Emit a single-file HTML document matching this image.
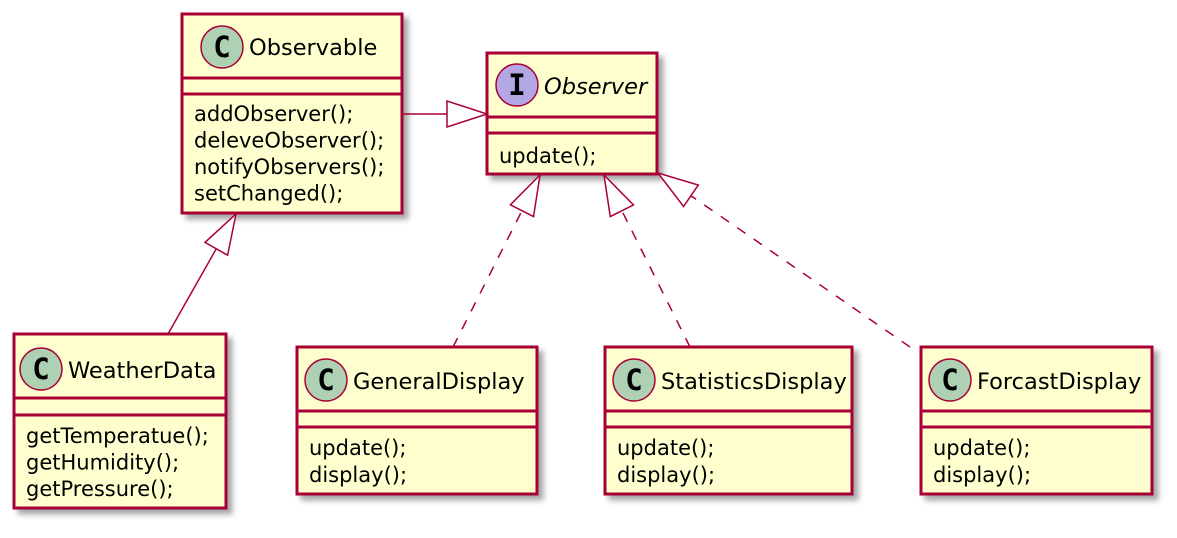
<!DOCTYPE html>
<html><head><meta charset="utf-8"><style>
html,body{margin:0;padding:0;background:#fff;}
svg text{font-family:"DejaVu Sans","Liberation Sans",sans-serif;font-size:21px;fill:#000;}
</style></head><body>
<svg id="s" width="1177" height="533" viewBox="0 0 1177 533" xmlns="http://www.w3.org/2000/svg">
<defs>
<filter id="sh" x="-10%" y="-10%" width="130%" height="130%">
<feGaussianBlur in="SourceAlpha" stdDeviation="3"/>
<feOffset dx="5" dy="5"/>
<feComponentTransfer><feFuncA type="linear" slope="0.35"/></feComponentTransfer>
<feMerge><feMergeNode/><feMergeNode in="SourceGraphic"/></feMerge>
</filter>
</defs>
<g id="boxes"></g>
<g id="edges"></g>
</svg>
<script>
var NS="http://www.w3.org/2000/svg";
function el(t,a,p,txt){var e=document.createElementNS(NS,t);for(var k in a)e.setAttribute(k,a[k]);if(txt!=null)e.textContent=txt;(p||document.getElementById('s')).appendChild(e);return e;}
var boxes=document.getElementById('boxes'),edges=document.getElementById('edges');
function box(x1,y1,x2,y2,s1,s2,cx,cy,title,tb,letter,italic,lines,lb,ls){
 el('rect',{x:x1,y:y1,width:x2-x1,height:y2-y1,fill:'#FEFECE',stroke:'#A80036','stroke-width':3,filter:'url(#sh)'},boxes);
 el('line',{x1:x1,y1:s1,x2:x2,y2:s1,stroke:'#A80036','stroke-width':3},boxes);
 el('line',{x1:x1,y1:s2,x2:x2,y2:s2,stroke:'#A80036','stroke-width':3},boxes);
 el('circle',{cx:cx,cy:cy,r:21,fill:letter=='I'?'#B4A7E5':'#ADD1B2',stroke:'#A80036','stroke-width':1.5},boxes);
 el('text',{x:cx,y:cy+10,'text-anchor':'middle',style:'font-size:29px;font-weight:bold;font-family:"DejaVu Sans Mono","Liberation Mono",monospace'},boxes,letter);
 el('text',{x:cx+27,y:tb,style:italic?'font-style:italic;font-size:22.5px':'font-size:22.5px'},boxes,title);
 for(var i=0;i<lines.length;i++)el('text',{x:x1+12,y:lb+i*ls},boxes,lines[i]);
}
box(182,14,402,213,78,94,222,47,'Observable',55,'C',false,['addObserver();','deleveObserver();','notifyObservers();','setChanged();'],121,26.5);
box(487,53,657,174,117,133,517,85,'Observer',94,'I',true,['update();'],163,26);
box(14,334,226,508,398,415,41,369,'WeatherData',378,'C',false,['getTemperatue();','getHumidity();','getPressure();'],443,26.5);
box(297,347,537,494,411,427,326,380,'GeneralDisplay',389,'C',false,['update();','display();'],455,27);
box(605,347,852,494,411,427,634,380,'StatisticsDisplay',389,'C',false,['update();','display();'],455,27);
box(921,347,1152,494,411,427,950,380,'ForcastDisplay',389,'C',false,['update();','display();'],455,27);
function edge(sx,sy,tx,ty,dash){
 var dx=tx-sx,dy=ty-sy,L=Math.sqrt(dx*dx+dy*dy),ux=dx/L,uy=dy/L,len=40,hw=13;
 var bx=tx-ux*len,by=ty-uy*len;
 var a={x1:sx,y1:sy,x2:bx,y2:by,stroke:'#A80036','stroke-width':1.5};
 if(dash)a['stroke-dasharray']='10,10';
 el('line',a,edges);
 var p=[tx+','+ty,(bx-uy*hw)+','+(by+ux*hw),(bx+uy*hw)+','+(by-ux*hw)].join(' ');
 el('polygon',{points:p,fill:'#fff',stroke:'#A80036','stroke-width':1.5},edges);
}
edge(403,114,487,114,false);
edge(168,334,236,214,false);
edge(453,347,540,175,true);
edge(690,347,604,175,true);
edge(910,347,658,173,true);
</script>
</body></html>
